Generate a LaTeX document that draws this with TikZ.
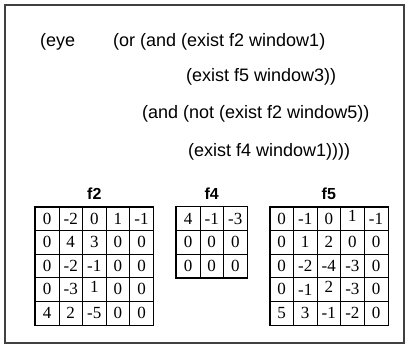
\documentclass[tikz,border=0pt]{standalone}
\usepackage{fontspec}
\setmainfont{Liberation Serif}
\setsansfont{Liberation Sans}
\usetikzlibrary{matrix,positioning}
\tikzset{
  expr/.style={anchor=west, inner sep=0pt, font=\sffamily\fontsize{18}{20}\selectfont},
  title/.style={inner sep=0pt, font=\sffamily\bfseries\fontsize{16}{18}\selectfont},
  numgrid/.style={matrix of nodes, anchor=north west, inner sep=0pt, outer sep=0pt,
    column sep=-0.6pt, row sep=-0.6pt,
    nodes={draw, line width=0.6pt, anchor=center, inner sep=0pt,
      minimum width=23.6pt, minimum height=23.6pt,
      font=\rmfamily\fontsize{17}{19}\selectfont}},
  border/.style={line width=1.2pt},
}
\newcommand{\up}[1]{\raisebox{3pt}[\height][\depth]{#1}}
\begin{document}
\begin{tikzpicture}[x=1pt,y=-1pt]
    \useasboundingbox (0,0) rectangle (409,347);
    \draw[line width=1.5pt, black!75] (5,5) rectangle (404,343);
    % the expression
    \node[expr] (eye) at (40,42) {(eye};
    \node[expr] (l1) at (113,42) {(or (and (exist f2 window1)};
    \node[expr] (l2) at (186,77) {(exist f5 window3))};
    \node[expr] (l3) at (142,114) {(and (not (exist f2 window5))};
    \node[expr] (l4) at (188,152) {(exist f4 window1))))};
    % the three windows
    \matrix[numgrid] (f2m) at (35,206.5) {
      0 & -2 & 0 & 1 & -1 \\
      0 & 4 & 3 & 0 & 0 \\
      0 & -2 & -1 & 0 & 0 \\
      0 & -3 & \up{1} & 0 & 0 \\
      4 & 2 & -5 & 0 & 0 \\
    };
    \matrix[numgrid] (f4m) at (176,206.5) {
      4 & -1 & -3 \\
      0 & 0 & 0 \\
      0 & 0 & 0 \\
    };
    \matrix[numgrid] (f5m) at (269.5,206.5) {
      0 & -1 & 0 & \up{1} & -1 \\
      0 & 1 & 2 & 0 & 0 \\
      0 & -2 & -4 & -3 & 0 \\
      0 & -1 & \up{2} & -3 & 0 \\
      5 & 3 & -1 & -2 & 0 \\
    };
    \draw[border] (f2m.north west) rectangle (f2m.south east);
    \draw[border] (f4m.north west) rectangle (f4m.south east);
    \draw[border] (f5m.north west) rectangle (f5m.south east);
    \node[title, above=7pt of f2m] (f2) {f2};
    \node[title, above=7pt of f4m] (f4) {f4};
    \node[title, above=7pt of f5m] (f5) {f5};
  \end{tikzpicture}
\end{document}
